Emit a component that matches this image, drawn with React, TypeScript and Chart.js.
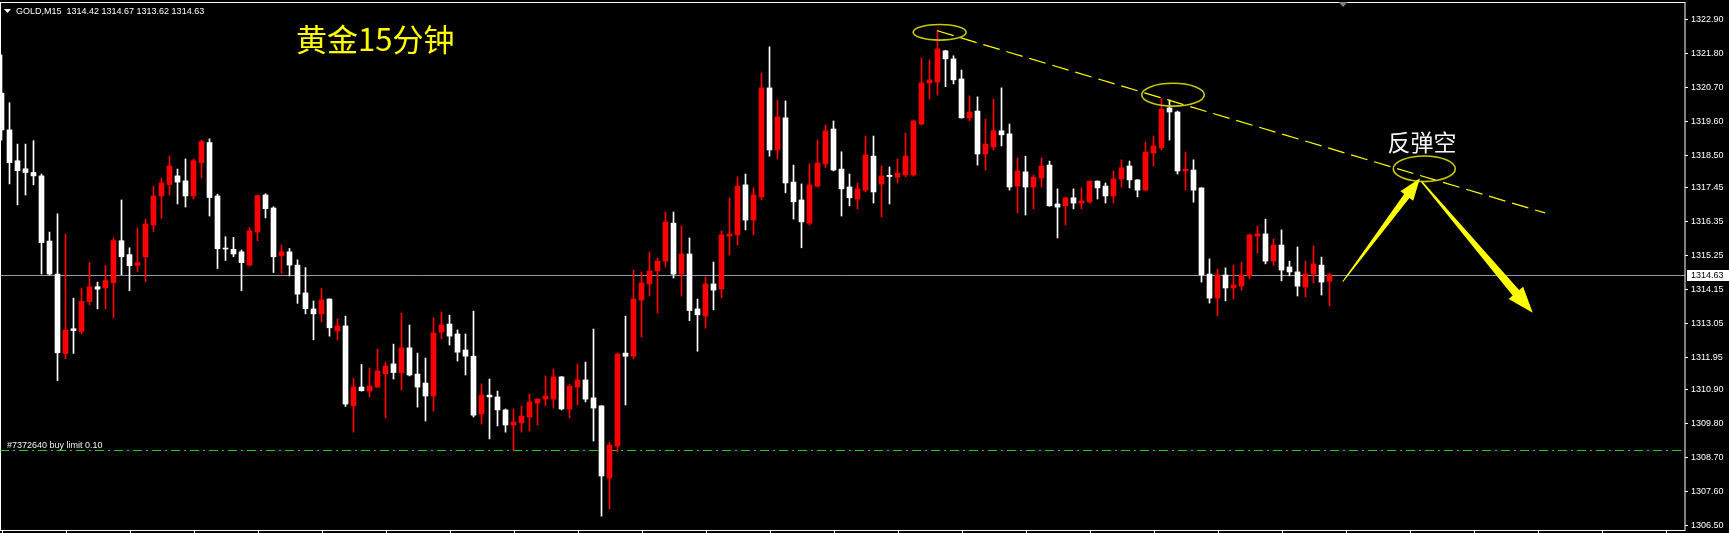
import React, { useEffect, useRef } from "react";
import { Chart, registerables } from "chart.js";

Chart.register(...registerables);

// ---- Data (15-minute GOLD candles, oldest first) ----
const OPEN = [
  1320.51, 1319.32, 1318.32, 1318.06, 1317.94, 1317.83, 1315.72, 1314.65, 1312.08, 1312.88,
  1312.79, 1313.76, 1314.24, 1314.20, 1314.37, 1315.73, 1315.28, 1314.93, 1315.21, 1316.24,
  1317.18, 1317.55, 1317.83, 1317.67, 1317.18, 1318.26, 1318.91, 1317.18, 1315.48, 1315.45,
  1315.37, 1314.94, 1316.01, 1317.21, 1316.79, 1315.25, 1315.37, 1314.94, 1314.04, 1313.52,
  1313.36, 1313.84, 1312.81, 1312.97, 1310.38, 1310.99, 1310.86, 1310.99, 1311.42, 1311.74,
  1311.45, 1312.26, 1311.41, 1311.12, 1310.70, 1312.77, 1313.03, 1312.71, 1312.19, 1311.99,
  1310.12, 1310.73, 1310.67, 1310.25, 1309.76, 1309.83, 1310.02, 1310.47, 1310.60, 1310.60,
  1311.32, 1310.28, 1310.99, 1311.22, 1310.64, 1310.38, 1308.04, 1309.08, 1312.09, 1311.99,
  1313.81, 1314.33, 1314.75, 1315.07, 1316.30, 1314.65, 1315.30, 1313.52, 1313.29, 1314.33,
  1314.17, 1315.88, 1315.92, 1317.54, 1316.40, 1317.15, 1320.68, 1318.67, 1319.71, 1317.63,
  1317.05, 1316.30, 1317.50, 1318.22, 1319.35, 1318.05, 1317.47, 1317.08, 1317.37, 1318.47,
  1317.57, 1317.85, 1317.79, 1317.86, 1317.86, 1319.51, 1320.84, 1320.87, 1321.88, 1321.62,
  1320.97, 1319.71, 1319.93, 1318.54, 1318.77, 1319.29, 1319.19, 1317.50, 1317.96, 1317.47,
  1317.76, 1318.18, 1316.92, 1316.86, 1317.12, 1316.95, 1316.99, 1317.66, 1317.50, 1317.18,
  1317.73, 1318.15, 1317.70, 1317.37, 1318.57, 1318.74, 1320.03, 1319.90, 1317.99, 1318.02,
  1317.44, 1314.65, 1313.87, 1314.62, 1314.20, 1314.26, 1314.59, 1315.88, 1315.95, 1315.07,
  1315.59, 1314.88, 1314.72, 1314.23, 1314.65, 1314.94, 1314.42,
];
const HIGH = [
  1321.75, 1320.20, 1318.86, 1318.86, 1318.97, 1317.89, 1316.01, 1316.60, 1315.95, 1313.87,
  1314.20, 1315.02, 1314.39, 1314.93, 1315.82, 1317.05, 1315.50, 1316.14, 1316.43, 1317.50,
  1317.76, 1318.47, 1318.05, 1318.38, 1318.38, 1318.99, 1319.03, 1317.24, 1315.86, 1315.84,
  1315.43, 1316.16, 1317.21, 1317.25, 1316.83, 1315.59, 1315.48, 1315.11, 1314.86, 1313.78,
  1314.18, 1313.85, 1313.20, 1313.29, 1311.28, 1311.72, 1311.61, 1312.22, 1311.80, 1312.38,
  1313.38, 1313.00, 1312.09, 1311.93, 1313.23, 1313.42, 1313.32, 1312.84, 1312.71, 1313.45,
  1311.09, 1311.25, 1310.86, 1310.28, 1310.28, 1310.38, 1310.76, 1310.61, 1311.35, 1311.57,
  1311.33, 1311.09, 1311.74, 1311.80, 1312.87, 1310.39, 1309.21, 1312.09, 1313.29, 1314.78,
  1314.72, 1315.36, 1315.17, 1316.66, 1316.66, 1316.21, 1315.82, 1313.84, 1314.56, 1315.04,
  1316.05, 1317.12, 1317.80, 1317.89, 1317.44, 1321.16, 1322.01, 1320.29, 1320.26, 1318.18,
  1317.57, 1318.22, 1318.99, 1319.47, 1319.61, 1318.61, 1317.89, 1317.60, 1319.12, 1319.12,
  1318.15, 1318.12, 1318.38, 1319.22, 1319.64, 1321.65, 1321.59, 1322.56, 1321.90, 1321.72,
  1321.26, 1320.42, 1320.39, 1319.67, 1320.32, 1320.68, 1319.51, 1318.41, 1318.47, 1317.86,
  1318.41, 1318.31, 1317.41, 1317.13, 1317.41, 1317.44, 1317.67, 1317.67, 1317.60, 1317.99,
  1318.35, 1318.31, 1317.71, 1318.93, 1319.12, 1320.35, 1320.29, 1319.93, 1318.60, 1318.35,
  1317.45, 1315.14, 1314.81, 1314.85, 1314.94, 1315.04, 1315.95, 1316.21, 1316.43, 1315.79,
  1316.08, 1315.07, 1315.53, 1315.07, 1315.56, 1315.20, 1314.67,
];
const LOW = [
  1318.99, 1317.57, 1316.89, 1317.21, 1317.54, 1314.65, 1314.62, 1311.20, 1311.91, 1312.08,
  1312.71, 1313.65, 1313.52, 1313.52, 1313.23, 1314.63, 1314.11, 1314.72, 1314.40, 1316.02,
  1316.45, 1317.21, 1316.92, 1316.82, 1317.08, 1317.76, 1316.53, 1314.83, 1315.09, 1315.21,
  1314.11, 1314.91, 1315.73, 1316.47, 1314.70, 1314.67, 1314.59, 1313.70, 1313.36, 1312.52,
  1313.10, 1312.64, 1312.52, 1310.36, 1309.53, 1310.86, 1310.67, 1310.98, 1309.99, 1311.25,
  1310.89, 1311.35, 1310.34, 1309.89, 1310.21, 1312.55, 1312.35, 1311.83, 1311.38, 1310.02,
  1309.79, 1309.31, 1309.73, 1309.53, 1308.95, 1309.53, 1309.57, 1309.76, 1310.38, 1310.31,
  1310.25, 1309.99, 1310.41, 1310.51, 1309.24, 1306.81, 1307.04, 1308.89, 1310.41, 1311.90,
  1312.61, 1313.94, 1313.39, 1314.88, 1314.52, 1313.94, 1313.14, 1312.15, 1312.90, 1313.49,
  1313.88, 1315.27, 1315.59, 1316.08, 1315.92, 1317.05, 1318.47, 1318.38, 1317.28, 1316.43,
  1315.50, 1316.24, 1317.47, 1318.09, 1317.99, 1316.53, 1316.86, 1316.76, 1317.31, 1316.95,
  1316.50, 1316.92, 1317.60, 1317.80, 1317.82, 1319.48, 1320.32, 1320.45, 1320.72, 1320.81,
  1319.70, 1319.61, 1318.18, 1318.02, 1318.67, 1318.80, 1317.37, 1316.63, 1316.56, 1316.76,
  1317.47, 1316.85, 1315.82, 1316.24, 1316.76, 1316.76, 1316.95, 1317.08, 1316.95, 1316.95,
  1317.47, 1317.44, 1317.15, 1317.36, 1318.15, 1318.67, 1318.99, 1317.89, 1317.37, 1316.98,
  1314.39, 1313.71, 1313.29, 1313.78, 1313.84, 1314.13, 1314.49, 1315.33, 1314.98, 1314.94,
  1314.43, 1314.59, 1313.94, 1313.91, 1314.36, 1313.97, 1313.62,
];
const CLOSE = [
  1319.32, 1318.26, 1318.00, 1317.94, 1317.83, 1315.67, 1314.65, 1312.10, 1312.84, 1312.82,
  1313.76, 1314.24, 1314.16, 1314.44, 1315.73, 1315.21, 1314.92, 1315.02, 1316.27, 1317.18,
  1317.60, 1318.15, 1317.63, 1317.18, 1318.32, 1318.94, 1317.13, 1315.47, 1315.46, 1315.30,
  1315.02, 1316.05, 1317.19, 1316.77, 1315.21, 1315.37, 1314.94, 1314.00, 1313.53, 1313.36,
  1313.81, 1312.91, 1312.97, 1310.44, 1310.99, 1310.87, 1311.02, 1311.51, 1311.67, 1311.46,
  1312.26, 1311.38, 1310.99, 1310.70, 1312.74, 1313.00, 1312.64, 1312.12, 1311.99, 1310.08,
  1310.73, 1310.67, 1310.25, 1309.76, 1309.86, 1310.05, 1310.51, 1310.60, 1310.70, 1311.32,
  1310.28, 1311.02, 1311.22, 1310.60, 1310.31, 1308.11, 1309.11, 1312.06, 1311.99, 1313.84,
  1314.36, 1314.75, 1315.07, 1316.34, 1314.65, 1315.30, 1313.47, 1313.33, 1314.33, 1314.13,
  1315.92, 1315.95, 1317.50, 1316.40, 1317.21, 1320.68, 1318.67, 1319.74, 1317.60, 1316.99,
  1316.34, 1317.54, 1318.25, 1319.29, 1318.02, 1317.41, 1317.12, 1317.41, 1318.51, 1317.31,
  1317.83, 1317.81, 1317.92, 1318.47, 1319.61, 1320.84, 1320.94, 1321.94, 1321.62, 1320.94,
  1319.71, 1319.90, 1318.54, 1318.86, 1319.29, 1319.16, 1317.47, 1317.99, 1317.47, 1317.79,
  1318.15, 1316.86, 1316.82, 1317.12, 1316.95, 1317.02, 1317.66, 1317.44, 1317.18, 1317.73,
  1318.09, 1317.70, 1317.37, 1318.60, 1318.80, 1319.99, 1319.90, 1317.99, 1318.05, 1317.37,
  1314.62, 1313.87, 1314.62, 1314.20, 1314.30, 1314.62, 1315.92, 1315.95, 1315.07, 1315.59,
  1314.78, 1314.72, 1314.26, 1314.65, 1314.98, 1314.39, 1314.63,
];

const PRICE_TICKS = [
  1322.9, 1321.8, 1320.7, 1319.6, 1318.5, 1317.45, 1316.35, 1315.25,
  1314.15, 1313.05, 1311.95, 1310.9, 1309.8, 1308.7, 1307.6, 1306.5,
];

const SYMBOL = "GOLD,M15";
const TITLE = "黄金15分钟";
const NOTE = "反弹空";
const ORDER_LABEL = "#7372640 buy limit 0.10";
const ORDER_PRICE = 1308.95;

// annotations in (bar index, price)
const TREND_START = { x: 116.98, y: 1322.53 };
const TREND_END = { x: 192.94, y: 1316.63 };
const ELLIPSE_CENTERS = [
  { x: 117.27, y: 1322.48 },
  { x: 146.44, y: 1320.46 },
  { x: 177.85, y: 1318.06 },
];
const ARROW_UP = { from: { x: 167.65, y: 1314.4 }, to: { x: 177.31, y: 1317.75 } };
const ARROW_DOWN = { from: { x: 177.53, y: 1317.64 }, to: { x: 191.4, y: 1313.4 } };
const NOTE_POS = { x: 177.56, y: 1318.91 };
const SHIFT_MARK = 167.7;

const UP_COLOR = "#ff0000";
const DOWN_COLOR = "#ffffff";

const W = 1729;
const H = 533;

function drawArrow(ctx: CanvasRenderingContext2D, t: any, p: any, tailW: number, shaftW: number, headW: number, headL: number) {
  const dx = p.x - t.x;
  const dy = p.y - t.y;
  const len = Math.hypot(dx, dy);
  const ux = dx / len;
  const uy = dy / len;
  const nx = -uy;
  const ny = ux;
  const bx = p.x - ux * headL;
  const by = p.y - uy * headL;
  ctx.beginPath();
  ctx.moveTo(t.x + (nx * tailW) / 2, t.y + (ny * tailW) / 2);
  ctx.lineTo(bx + (nx * shaftW) / 2, by + (ny * shaftW) / 2);
  ctx.lineTo(bx + (nx * headW) / 2, by + (ny * headW) / 2);
  ctx.lineTo(p.x, p.y);
  ctx.lineTo(bx - (nx * headW) / 2, by - (ny * headW) / 2);
  ctx.lineTo(bx - (nx * shaftW) / 2, by - (ny * shaftW) / 2);
  ctx.lineTo(t.x - (nx * tailW) / 2, t.y - (ny * tailW) / 2);
  ctx.closePath();
  ctx.fill();
}

export default function App() {
  const ref = useRef<HTMLCanvasElement | null>(null);

  useEffect(() => {
    document.body.style.margin = "0";
    document.body.style.background = "#000";
    const canvas = ref.current;
    if (!canvas) return;

    const colors = OPEN.map((o, i) => (CLOSE[i] >= o ? UP_COLOR : DOWN_COLOR));
    const wickData = OPEN.map((_, i) => ({ x: i, y: [LOW[i], HIGH[i]] }));
    const bodyData = OPEN.map((o, i) => ({ x: i, y: [Math.min(o, CLOSE[i]), Math.max(o, CLOSE[i])] }));
    const last = OPEN.length - 1;

    const overlay = {
      id: "overlay",
      beforeDraw(chart: any) {
        const c = chart.ctx;
        c.save();
        c.fillStyle = "#000";
        c.fillRect(0, 0, chart.width, chart.height);
        c.restore();
      },
      beforeDatasetsDraw(chart: any) {
        const c = chart.ctx;
        const ys = chart.scales.y;
        const a = chart.chartArea;
        c.save();
        // bid line
        const yb = Math.round(ys.getPixelForValue(CLOSE[last])) + 0.5;
        c.strokeStyle = "#8f98a8";
        c.lineWidth = 1;
        c.beginPath();
        c.moveTo(a.left, yb);
        c.lineTo(a.right, yb);
        c.stroke();
        // pending order line
        const yo = Math.round(ys.getPixelForValue(ORDER_PRICE)) + 0.5;
        c.strokeStyle = "#19d219";
        c.setLineDash([9, 4, 2, 4]);
        c.beginPath();
        c.moveTo(a.left, yo);
        c.lineTo(a.right, yo);
        c.stroke();
        c.setLineDash([]);
        c.fillStyle = "#f2f2f2";
        c.font = "9px 'Liberation Sans', Arial, sans-serif";
        c.textBaseline = "alphabetic";
        c.textAlign = "left";
        c.fillText(ORDER_LABEL, 7, yo - 3);
        c.restore();
      },
      afterDatasetsDraw(chart: any) {
        const c = chart.ctx;
        const xs = chart.scales.x;
        const ys = chart.scales.y;
        const px = (p: any) => ({ x: xs.getPixelForValue(p.x), y: ys.getPixelForValue(p.y) });
        c.save();
        // trend line
        const s = px(TREND_START);
        const e = px(TREND_END);
        c.strokeStyle = "#ffff00";
        c.lineWidth = 1.2;
        c.setLineDash([17, 7]);
        c.beginPath();
        c.moveTo(s.x, s.y);
        c.lineTo(e.x, e.y);
        c.stroke();
        c.setLineDash([]);
        // ellipses
        const radii = [
          [26.5, 7.8],
          [31.3, 11.4],
          [31, 12.8],
        ];
        c.strokeStyle = "rgb(200,200,10)";
        c.lineWidth = 1.6;
        ELLIPSE_CENTERS.forEach((ctr, k) => {
          const p = px(ctr);
          c.beginPath();
          c.ellipse(p.x, p.y, radii[k][0], radii[k][1], 0, 0, Math.PI * 2);
          c.stroke();
        });
        // arrows
        c.fillStyle = "#ffff00";
        drawArrow(c, px(ARROW_UP.from), px(ARROW_UP.to), 1, 6.5, 16, 22);
        drawArrow(c, px(ARROW_DOWN.from), px(ARROW_DOWN.to), 1.5, 8.5, 19, 26);
        // note text
        const n = px(NOTE_POS);
        c.fillStyle = "#f4f4f4";
        c.font = "23px 'Noto Sans CJK SC', sans-serif";
        c.textAlign = "center";
        c.textBaseline = "middle";
        c.fillText(NOTE, n.x, n.y);
        c.restore();
      },
      afterDraw(chart: any) {
        const c = chart.ctx;
        const xs = chart.scales.x;
        const ys = chart.scales.y;
        const a = chart.chartArea;
        c.save();
        // frame
        c.strokeStyle = "#ffffff";
        c.lineWidth = 1;
        c.strokeRect(0.5, 2.5, a.right - 0.5, 528);
        // time ticks at the bottom
        c.beginPath();
        for (let i = 0; i <= xs.max; i += 8) {
          const x = Math.round(xs.getPixelForValue(i)) + 0.5;
          c.moveTo(x, 531);
          c.lineTo(x, 534);
        }
        c.stroke();
        // chart shift marker
        const sx = xs.getPixelForValue(SHIFT_MARK);
        c.fillStyle = "#7f7f7f";
        c.beginPath();
        c.moveTo(sx - 4.5, 2);
        c.lineTo(sx + 4.5, 2);
        c.lineTo(sx, 7);
        c.closePath();
        c.fill();
        // header
        c.fillStyle = "#ffffff";
        c.beginPath();
        c.moveTo(4, 9);
        c.lineTo(11, 9);
        c.lineTo(7.5, 13);
        c.closePath();
        c.fill();
        c.font = "9px 'Liberation Sans', Arial, sans-serif";
        c.textAlign = "left";
        c.textBaseline = "alphabetic";
        const hdr = `${SYMBOL}  ${OPEN[last].toFixed(2)} ${HIGH[last].toFixed(2)} ${LOW[last].toFixed(2)} ${CLOSE[last].toFixed(2)}`;
        c.fillText(hdr, 16, 14);
        // title
        c.fillStyle = "#ffff00";
        c.font = "31px 'Noto Sans CJK SC', sans-serif";
        c.textBaseline = "middle";
        c.fillText(TITLE, 296, 39);
        // current price box on axis
        const yb = Math.round(ys.getPixelForValue(CLOSE[last]));
        c.fillStyle = "#ffffff";
        c.fillRect(a.right + 2, yb - 5, W - a.right - 2, 11);
        c.fillStyle = "#000000";
        c.font = "9px 'Liberation Sans', Arial, sans-serif";
        c.textBaseline = "middle";
        c.fillText(CLOSE[last].toFixed(2), a.right + 6, yb + 0.5);
        c.restore();
      },
    };

    const chart = new Chart(canvas, {
      type: "bar",
      data: {
        datasets: [
          {
            label: "body",
            data: bodyData as any,
            backgroundColor: colors,
            borderWidth: 0,
            barThickness: 5,
            minBarLength: 1,
            grouped: false,
          } as any,
          {
            label: "wick",
            data: wickData as any,
            backgroundColor: colors,
            borderWidth: 0,
            barThickness: 1,
            grouped: false,
          } as any,
        ],
      },
      options: {
        responsive: false,
        maintainAspectRatio: false,
        devicePixelRatio: 1,
        animation: false,
        events: [],
        layout: { padding: { left: 0, right: 0, top: 3, bottom: 3 } },
        plugins: { legend: { display: false }, tooltip: { enabled: false } },
        scales: {
          x: {
            type: "linear",
            display: false,
            min: -0.1875,
            max: 210.4375,
            offset: false,
          },
          y: {
            type: "linear",
            position: "right",
            min: 1306.36,
            max: 1323.43,
            afterBuildTicks: (scale: any) => {
              scale.ticks = PRICE_TICKS.map((v) => ({ value: v }));
            },
            afterFit: (scale: any) => {
              scale.width = 44;
              scale.paddingTop = 0;
              scale.paddingBottom = 0;
            },
            border: { display: false },
            grid: {
              display: true,
              drawOnChartArea: false,
              drawTicks: true,
              tickLength: 3,
              color: "#ffffff",
            },
            ticks: {
              autoSkip: false,
              padding: 3,
              color: "#ffffff",
              font: { family: "'Liberation Sans', Arial, sans-serif", size: 9 },
              callback: (v: any) => Number(v).toFixed(2),
            },
          },
        },
      },
      plugins: [overlay],
    });

    return () => chart.destroy();
  }, []);

  return (
    <div style={{ width: W, height: H, background: "#000", overflow: "hidden" }}>
      <canvas ref={ref} width={W} height={H} style={{ display: "block", width: W, height: H }} />
    </div>
  );
}
